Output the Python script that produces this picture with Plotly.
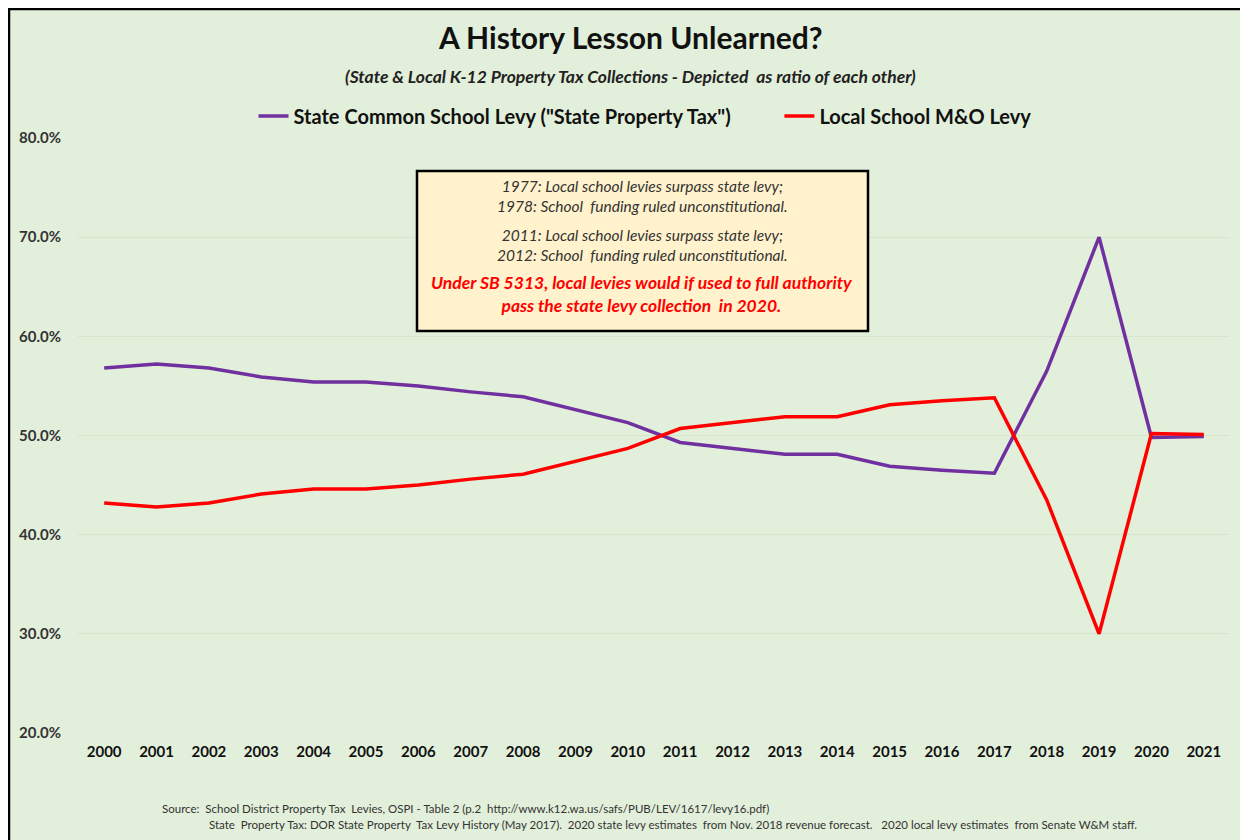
import plotly.graph_objects as go

years = [str(y) for y in range(2000, 2022)]
state_levy = [56.8, 57.2, 56.8, 55.9, 55.4, 55.4, 55.0, 54.4, 53.9, 52.6, 51.3, 49.3,
              48.7, 48.1, 48.1, 46.9, 46.5, 46.2, 56.5, 70.0, 49.8, 49.9]
local_levy = [43.2, 42.8, 43.2, 44.1, 44.6, 44.6, 45.0, 45.6, 46.1, 47.4, 48.7, 50.7,
              51.3, 51.9, 51.9, 53.1, 53.5, 53.8, 43.5, 30.0, 50.2, 50.1]
y_ticks = [20, 30, 40, 50, 60, 70, 80]
y_tick_labels = ["20.0%", "30.0%", "40.0%", "50.0%", "60.0%", "70.0%", "80.0%"]

OFF = 8  # page body margin
W, H = 1248 - OFF, 840 - OFF
# plot area in reference page coordinates
PL, PR, PT, PB = 78, 1230, 138, 733
L, R, T, B = PL - OFF, (W + OFF) - PR, PT - OFF, (H + OFF) - PB
PW, PH = W - L - R, H - T - B

def px(x):
    return (x - PL) / PW

def py(y):
    return (PB - y) / PH

FONT = "Lato"
BG = "#E2EFDA"

fig = go.Figure()
fig.add_trace(go.Scatter(x=years, y=state_levy, mode="lines",
                         name='State Common School Levy ("State Property Tax")' + "&nbsp;" * 9,
                         line=dict(color="#7030A0", width=3.5)))
fig.add_trace(go.Scatter(x=years, y=local_levy, mode="lines",
                         name="Local School M&O Levy",
                         line=dict(color="#FF0000", width=3.5)))

fig.update_layout(
    width=W, height=H,
    margin=dict(l=L, r=R, t=T, b=B),
    paper_bgcolor=BG, plot_bgcolor=BG,
    font=dict(family=FONT, color="#222222"),
    showlegend=True,
    legend=dict(orientation="h", x=px(645), xanchor="center", y=py(116), yanchor="middle",
                font=dict(size=20, family=FONT, color="#111111", weight="bold"),
                bgcolor="rgba(0,0,0,0)", itemwidth=30),
    xaxis=dict(type="category", range=[-0.5, 21.5], showgrid=False, zeroline=False, showline=False,
               ticks="", tickfont=dict(size=15, weight="bold", color="#111111"),
               ticklabelstandoff=8),
    yaxis=dict(range=[20, 80], tickvals=y_ticks, ticktext=y_tick_labels,
               showgrid=True, gridcolor="#D6E6CC", gridwidth=1, zeroline=False,
               showline=False, ticks="",
               tickfont=dict(size=15, weight="bold", color="#333333"),
               ticklabelstandoff=16),
)

# Outer border (left and top)
fig.add_shape(type="line", xref="paper", yref="paper", x0=px(9), x1=px(9), y0=py(8), y1=py(860),
              line=dict(color="black", width=2.5))
fig.add_shape(type="line", xref="paper", yref="paper", x0=px(8), x1=px(1260), y0=py(9), y1=py(9),
              line=dict(color="black", width=2.5))

# Title / subtitle
fig.add_annotation(xref="paper", yref="paper", x=px(630), y=py(37), text="<b>A History Lesson Unlearned?</b>",
                   showarrow=False, font=dict(size=30, family=FONT, color="#111111"), xanchor="center", yanchor="middle")
fig.add_annotation(xref="paper", yref="paper", x=px(630), y=py(77),
                   text="<b><i>(State &amp; Local K-12 Property Tax Collections - Depicted  as ratio of each other)</i></b>",
                   showarrow=False, font=dict(size=17.5, family=FONT, color="#222222"), xanchor="center", yanchor="middle")

# Note box
fig.add_shape(type="rect", xref="paper", yref="paper", x0=px(417), x1=px(868), y0=py(171), y1=py(331),
              fillcolor="#FFF2CC", line=dict(color="black", width=2.5), layer="above")
fig.add_annotation(xref="paper", yref="paper", x=px(642), y=py(196),
                   text="<i>1977: Local school levies surpass state levy;<br>1978: School  funding ruled unconstitutional.</i>",
                   showarrow=False, font=dict(size=15.5, family=FONT, color="#333333"), xanchor="center", yanchor="middle")
fig.add_annotation(xref="paper", yref="paper", x=px(642), y=py(245),
                   text="<i>2011: Local school levies surpass state levy;<br>2012: School  funding ruled unconstitutional.</i>",
                   showarrow=False, font=dict(size=15.5, family=FONT, color="#333333"), xanchor="center", yanchor="middle")
fig.add_annotation(xref="paper", yref="paper", x=px(642), y=py(294),
                   text="<b><i>Under SB 5313, local levies would if used to full authority<br>pass the state levy collection  in 2020.</i></b>",
                   showarrow=False, font=dict(size=17.5, family=FONT, color="#FF0000"), xanchor="center", yanchor="middle")

# Footer source
fig.add_annotation(xref="paper", yref="paper", x=px(160), y=py(808),
                   text="Source:  School District Property Tax  Levies, OSPI - Table 2 (p.2  http://www.k12.wa.us/safs/PUB/LEV/1617/levy16.pdf)",
                   showarrow=False, font=dict(size=11.5, family=FONT, color="#333333"), xanchor="left", yanchor="middle")
fig.add_annotation(xref="paper", yref="paper", x=px(207), y=py(825),
                   text="State  Property Tax: DOR State Property  Tax Levy History (May 2017).  2020 state levy estimates  from Nov. 2018 revenue forecast.   2020 local levy estimates  from Senate W&amp;M staff.",
                   showarrow=False, font=dict(size=11.5, family=FONT, color="#333333"), xanchor="left", yanchor="middle")

fig.write_html("out.html")
